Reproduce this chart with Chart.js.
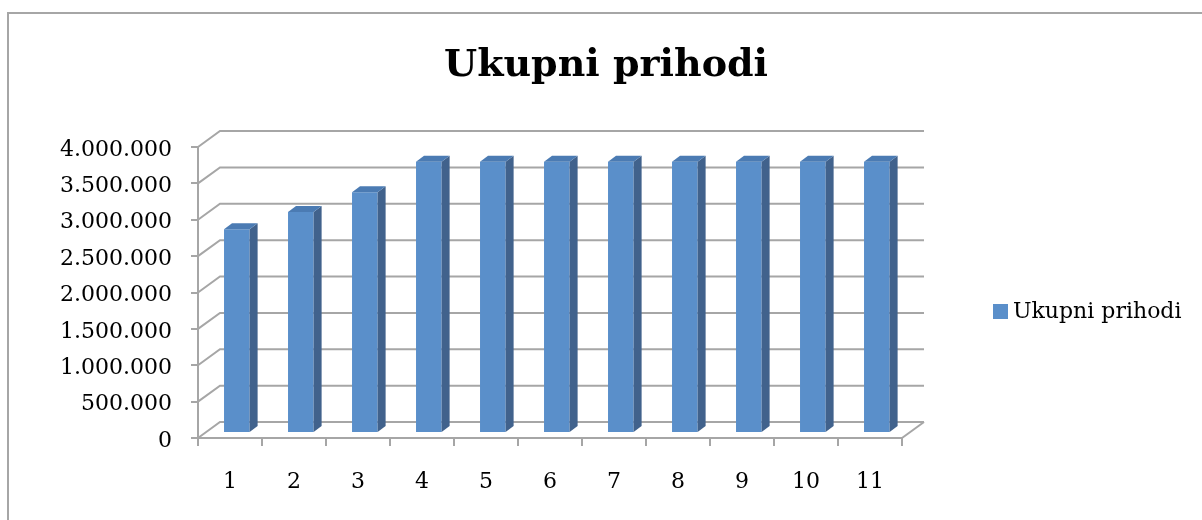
<!DOCTYPE html>
<html>
<head>
<meta charset="utf-8">
<script src="https://cdn.jsdelivr.net/npm/chart.js@4.4.1/dist/chart.umd.min.js"></script>
<style>
    html, body { margin: 0; padding: 0; background: #fff; overflow: hidden; }
    #frame { position: absolute; left: 7px; top: 12px; width: 1300px; height: 600px;
             border-left: 2px solid #a6a6a6; border-top: 2px solid #a6a6a6; }
    #wrap { position: absolute; left: 0; top: 0; width: 1202px; height: 520px; }
</style>
</head>
<body>
<div id="frame"></div>
<div id="wrap"><canvas id="revenueChart"></canvas></div>
<script>
const categories = ['1', '2', '3', '4', '5', '6', '7', '8', '9', '10', '11'];
const prihodi = [2800000, 3040000, 3310000, 3730000, 3730000, 3730000, 3730000, 3730000, 3730000, 3730000, 3730000];
const yTicks = [0, 500000, 1000000, 1500000, 2000000, 2500000, 3000000, 3500000, 4000000];
const seriesName = 'Ukupni prihodi';

const FONT = "'DejaVu Serif', serif";
const GRID = '#a6a6a6';
// oblique depth of the floor / back wall, and of the bars themselves
const DEPTH = { dx: 22, dy: -16 };
const BAR_SHIFT = 0.31;
const BAR_DEPTH = { dx: 8, dy: -6 };

function formatNum(v) {
    return String(v).replace(/\B(?=(\d{3})+(?!\d))/g, '.');
}

// back wall, side wall, floor and the 3d faces of the columns
const pseudo3d = {
    id: 'pseudo3d',
    beforeDatasetsDraw(chart) {
        const ctx = chart.ctx;
        const y = chart.scales.y;
        const { left, right, bottom } = chart.chartArea;
        ctx.save();
        ctx.strokeStyle = GRID;
        ctx.lineWidth = 2;
        y.ticks.forEach(t => {
            const py = y.getPixelForValue(t.value);
            ctx.beginPath();
            ctx.moveTo(left, py);
            ctx.lineTo(left + DEPTH.dx, py + DEPTH.dy);
            ctx.lineTo(right + DEPTH.dx, py + DEPTH.dy);
            ctx.stroke();
        });
        ctx.beginPath();
        ctx.moveTo(right, bottom);
        ctx.lineTo(right + DEPTH.dx, bottom + DEPTH.dy);
        ctx.stroke();
        ctx.restore();

        // push the columns back into the middle of the floor
        ctx.save();
        ctx.translate(DEPTH.dx * BAR_SHIFT, DEPTH.dy * BAR_SHIFT);
    },
    afterDatasetsDraw(chart) {
        const ctx = chart.ctx;
        const meta = chart.getDatasetMeta(0);
        meta.data.forEach(bar => {
            const { x, y, base, width } = bar.getProps(['x', 'y', 'base', 'width'], true);
            const l = x - width / 2, r = x + width / 2;
            // side face
            ctx.fillStyle = '#41628c';
            ctx.beginPath();
            ctx.moveTo(r, y);
            ctx.lineTo(r + BAR_DEPTH.dx, y + BAR_DEPTH.dy);
            ctx.lineTo(r + BAR_DEPTH.dx, base + BAR_DEPTH.dy);
            ctx.lineTo(r, base);
            ctx.closePath();
            ctx.fill();
            // top face
            ctx.fillStyle = '#4b7bb3';
            ctx.beginPath();
            ctx.moveTo(l, y);
            ctx.lineTo(l + BAR_DEPTH.dx, y + BAR_DEPTH.dy);
            ctx.lineTo(r + BAR_DEPTH.dx, y + BAR_DEPTH.dy);
            ctx.lineTo(r, y);
            ctx.closePath();
            ctx.fill();
        });
        ctx.restore();

        // legend
        const ds = chart.data.datasets[0];
        ctx.save();
        ctx.fillStyle = ds.backgroundColor;
        ctx.fillRect(993, 304, 15, 15);
        ctx.fillStyle = '#000';
        ctx.font = '22px ' + FONT;
        ctx.textBaseline = 'middle';
        ctx.textAlign = 'left';
        ctx.fillText(ds.label, 1013, 312);
        ctx.restore();
    }
};

new Chart(document.getElementById('revenueChart').getContext('2d'), {
    type: 'bar',
    data: {
        labels: categories,
        datasets: [{
            label: seriesName,
            data: prihodi,
            backgroundColor: '#5a8fca',
            borderWidth: 0,
            barPercentage: 1,
            categoryPercentage: 0.4
        }]
    },
    options: {
        responsive: true,
        maintainAspectRatio: false,
        animation: false,
        layout: { padding: { left: 10, right: 0, top: 0, bottom: 0 } },
        plugins: {
            legend: { display: false },
            tooltip: { enabled: false },
            title: {
                display: true,
                text: seriesName,
                color: '#000',
                font: { family: FONT, size: 38, weight: 'bold' },
                padding: { top: 43, bottom: 58.4 }
            }
        },
        scales: {
            x: {
                grid: { drawOnChartArea: false, drawTicks: true, tickLength: 8, color: GRID, lineWidth: 2 },
                border: { display: true, color: GRID, width: 2 },
                ticks: { color: '#000', font: { family: FONT, size: 22 }, padding: 23, maxRotation: 0 },
                afterFit: s => { s.height = 82; }
            },
            y: {
                min: 0,
                max: 4000000,
                afterBuildTicks: s => { s.ticks = yTicks.map(v => ({ value: v })); },
                grid: { drawOnChartArea: false, drawTicks: true, tickLength: 7, color: GRID, lineWidth: 2 },
                border: { display: true, color: GRID, width: 2 },
                ticks: { color: '#000', font: { family: FONT, size: 22 }, padding: 19, labelOffset: 3,
                         callback: v => formatNum(v) },
                afterFit: s => { s.width = 188; }
            },
            yR: {
                position: 'right',
                display: true,
                grid: { display: false },
                border: { display: false },
                ticks: { display: false },
                afterFit: s => { s.width = 300; }
            }
        }
    },
    plugins: [pseudo3d]
});
</script>
</body>
</html>
